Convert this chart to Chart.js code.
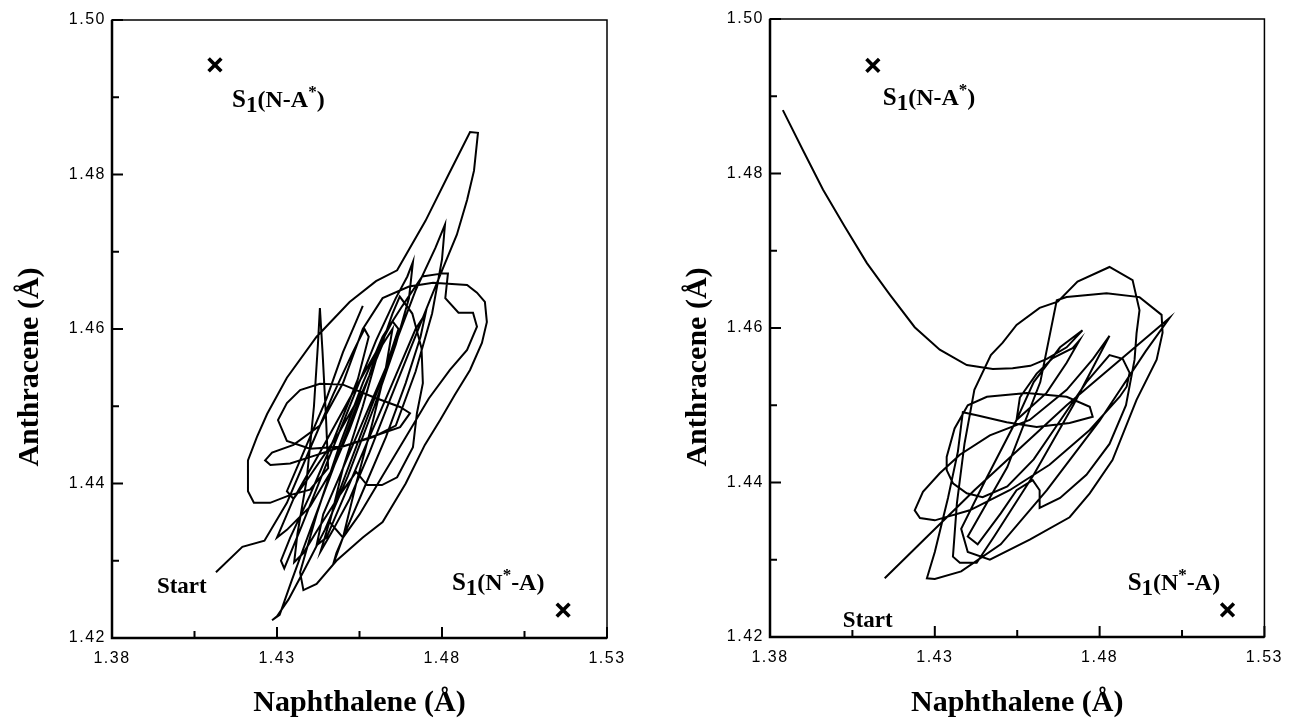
<!DOCTYPE html>
<html>

<head>
  <meta charset="utf-8">
  <title>Naphthalene / Anthracene trajectories</title>
  <script src="https://cdn.jsdelivr.net/npm/chart.js@4"></script>
  <style>
    body { margin: 0; background: #fff; }
    #wrap { position: relative; width: 1291px; height: 719px; }
    canvas { position: absolute; top: 0; }
  </style>
</head>

<body>
  <div id="wrap">
    <canvas id="leftChart" width="645" height="719" style="left:0"></canvas>
    <canvas id="rightChart" width="646" height="719" style="left:645px"></canvas>
  </div>
  <script>
    // axis labels
    var xTickLabels = ['1.38', '1.43', '1.48', '1.53'];
    var yTickLabels = ['1.42', '1.44', '1.46', '1.48', '1.50'];
    var xTitle = 'Naphthalene (\u00C5)';
    var yTitle = 'Anthracene (\u00C5)';

    // left panel trajectory
    var leftNaph = [
      1.4115, 1.4195, 1.4262, 1.4330, 1.4400, 1.4470, 1.4530, 1.4565, 1.4578, 1.4545,
      1.4470, 1.4400, 1.4340, 1.4312, 1.4322, 1.4375, 1.4445, 1.4525, 1.4600, 1.4660,
      1.4695, 1.4712, 1.4700, 1.4660, 1.4595, 1.4515, 1.4445, 1.4385, 1.4335, 1.4300,
      1.4285, 1.4308, 1.4345, 1.4405, 1.4475, 1.4545, 1.4605, 1.4650, 1.4672, 1.4710,
      1.4738, 1.4742, 1.4724, 1.4712, 1.4664, 1.4618, 1.4573, 1.4540, 1.4490, 1.4430,
      1.4380, 1.4352, 1.4362, 1.4390, 1.4412, 1.4424, 1.4430, 1.4438, 1.4448, 1.4455,
      1.4400, 1.4339, 1.4279, 1.4230, 1.4212, 1.4212, 1.4239, 1.4270, 1.4330, 1.4420,
      1.4520, 1.4600, 1.4664, 1.4750, 1.4820, 1.4885, 1.4909, 1.4897, 1.4876, 1.4845,
      1.4809, 1.4764, 1.4703, 1.4642, 1.4580, 1.4520, 1.4470, 1.4432, 1.4480, 1.4560,
      1.4640, 1.4720, 1.4780, 1.4809, 1.4800, 1.4770, 1.4720, 1.4660, 1.4591, 1.4500,
      1.4400, 1.4330, 1.4303, 1.4330, 1.4370, 1.4430, 1.4500, 1.4591, 1.4673, 1.4703,
      1.4673, 1.4550, 1.4421, 1.4340, 1.4280, 1.4264, 1.4285, 1.4350, 1.4430, 1.4500,
      1.4560, 1.4620, 1.4700, 1.4773, 1.4876, 1.4906, 1.4930, 1.4936, 1.4921, 1.4885,
      1.4839, 1.4794, 1.4748, 1.4690, 1.4620, 1.4560, 1.4480, 1.4420, 1.4380, 1.4370,
      1.4420, 1.4490, 1.4560, 1.4620, 1.4680, 1.4740, 1.4803, 1.4818, 1.4810, 1.4850,
      1.4894, 1.4906, 1.4876, 1.4824, 1.4760, 1.4690, 1.4620, 1.4550, 1.4500, 1.4460,
      1.4500, 1.4560, 1.4600, 1.4610, 1.4580, 1.4520, 1.4470, 1.4400, 1.4330, 1.4300,
      1.4350, 1.4430, 1.4520, 1.4600, 1.4650, 1.4668, 1.4630, 1.4560, 1.4490, 1.4440,
      1.4420, 1.4450, 1.4510, 1.4590, 1.4660, 1.4720, 1.4750, 1.4735, 1.4690, 1.4630,
      1.4570, 1.4520, 1.4480, 1.4470, 1.4500, 1.4540, 1.4590, 1.4630, 1.4650, 1.4620,
      1.4560, 1.4480, 1.4400, 1.4350, 1.4330, 1.4380, 1.4450, 1.4500, 1.4540, 1.4560
    ];
    var leftAnth = [
      1.4285, 1.4318, 1.4326, 1.4375, 1.4445, 1.4515, 1.4570, 1.4600, 1.4590, 1.4535,
      1.4455, 1.4385, 1.4330, 1.4300, 1.4290, 1.4345, 1.4420, 1.4505, 1.4585, 1.4640,
      1.4668, 1.4687, 1.4640, 1.4580, 1.4500, 1.4410, 1.4340, 1.4290, 1.4250, 1.4228,
      1.4223, 1.4230, 1.4275, 1.4345, 1.4425, 1.4505, 1.4565, 1.4620, 1.4642, 1.4620,
      1.4575, 1.4530, 1.4491, 1.4447, 1.4408, 1.4398, 1.4398, 1.4415, 1.4385, 1.4345,
      1.4310, 1.4298, 1.4335, 1.4405, 1.4500, 1.4580, 1.4627, 1.4570, 1.4490, 1.4420,
      1.4392, 1.4385, 1.4375, 1.4375, 1.4390, 1.4430, 1.4460, 1.4490, 1.4537, 1.4590,
      1.4635, 1.4662, 1.4676, 1.4740, 1.4800, 1.4855, 1.4854, 1.4805, 1.4767, 1.4722,
      1.4685, 1.4638, 1.4573, 1.4508, 1.4440, 1.4380, 1.4340, 1.4312, 1.4380, 1.4470,
      1.4560, 1.4650, 1.4705, 1.4735, 1.4690, 1.4620, 1.4545, 1.4475, 1.4460, 1.4448,
      1.4445, 1.4455, 1.4482, 1.4504, 1.4521, 1.4529, 1.4528, 1.4512, 1.4499, 1.4491,
      1.4473, 1.4455, 1.4437, 1.4426, 1.4424, 1.4430, 1.4440, 1.4450, 1.4475, 1.4530,
      1.4600, 1.4640, 1.4655, 1.4660, 1.4657, 1.4647, 1.4635, 1.4609, 1.4582, 1.4547,
      1.4515, 1.4482, 1.4450, 1.4400, 1.4350, 1.4330, 1.4300, 1.4270, 1.4262, 1.4285,
      1.4360, 1.4450, 1.4530, 1.4590, 1.4630, 1.4668, 1.4672, 1.4672, 1.4640, 1.4621,
      1.4621, 1.4603, 1.4573, 1.4547, 1.4510, 1.4460, 1.4410, 1.4360, 1.4330, 1.4350,
      1.4420, 1.4500, 1.4560, 1.4580, 1.4540, 1.4470, 1.4420, 1.4370, 1.4340, 1.4330,
      1.4380, 1.4440, 1.4510, 1.4570, 1.4610, 1.4600, 1.4550, 1.4480, 1.4410, 1.4360,
      1.4320, 1.4330, 1.4390, 1.4470, 1.4540, 1.4600, 1.4620, 1.4590, 1.4530, 1.4460,
      1.4400, 1.4350, 1.4310, 1.4295, 1.4330, 1.4400, 1.4480, 1.4550, 1.4600, 1.4580,
      1.4520, 1.4460, 1.4410, 1.4380, 1.4390, 1.4440, 1.4510, 1.4570, 1.4610, 1.4630
    ];

    // right panel trajectory
    var rightNaph = [
      1.4148, 1.4420, 1.4700, 1.5012, 1.4940, 1.4800, 1.4640, 1.4500, 1.4380, 1.4300,
      1.4276, 1.4300, 1.4340, 1.4370, 1.4385, 1.4427, 1.4518, 1.4609, 1.4709, 1.4779,
      1.4770, 1.4700, 1.4579, 1.4458, 1.4400, 1.4360, 1.4336, 1.4336, 1.4355, 1.4397,
      1.4445, 1.4520, 1.4600, 1.4680, 1.4760, 1.4830, 1.4870, 1.4891, 1.4882, 1.4861,
      1.4770, 1.4648, 1.4527, 1.4406, 1.4300, 1.4255, 1.4239, 1.4264, 1.4315, 1.4376,
      1.4467, 1.4588, 1.4700, 1.4780, 1.4830, 1.4720, 1.4600, 1.4480, 1.4427, 1.4376,
      1.4355, 1.4367, 1.4390, 1.4420, 1.4470, 1.4506, 1.4548, 1.4618, 1.4673, 1.4733,
      1.4830, 1.4900, 1.4921, 1.4912, 1.4906, 1.4880, 1.4830, 1.4760, 1.4680, 1.4618,
      1.4618, 1.4597, 1.4548, 1.4500, 1.4430, 1.4400, 1.4520, 1.4620, 1.4670, 1.4700,
      1.4821, 1.4921, 1.4988, 1.4991, 1.4973, 1.4912, 1.4839, 1.4770, 1.4709, 1.4588,
      1.4467, 1.4400, 1.4380, 1.4450, 1.4548, 1.4639, 1.4700, 1.4739, 1.4718, 1.4658,
      1.4609, 1.4558, 1.4548, 1.4600, 1.4680, 1.4748, 1.4700, 1.4640, 1.4590, 1.4536,
      1.4476, 1.4397, 1.4315, 1.4239, 1.4164, 1.4094, 1.4027, 1.3961, 1.3900, 1.3839
    ];
    var rightAnth = [
      1.4276, 1.4390, 1.4500, 1.4613, 1.4570, 1.4480, 1.4390, 1.4320, 1.4285, 1.4275,
      1.4276, 1.4310, 1.4380, 1.4440, 1.4491, 1.4487, 1.4478, 1.4472, 1.4477, 1.4485,
      1.4498, 1.4511, 1.4516, 1.4511, 1.4500, 1.4470, 1.4433, 1.4416, 1.4399, 1.4386,
      1.4381, 1.4395, 1.4430, 1.4480, 1.4530, 1.4565, 1.4560, 1.4542, 1.4524, 1.4511,
      1.4468, 1.4423, 1.4390, 1.4364, 1.4351, 1.4354, 1.4364, 1.4388, 1.4412, 1.4436,
      1.4461, 1.4481, 1.4520, 1.4560, 1.4590, 1.4500, 1.4410, 1.4330, 1.4296, 1.4296,
      1.4304, 1.4373, 1.4450, 1.4520, 1.4565, 1.4581, 1.4604, 1.4626, 1.4634, 1.4660,
      1.4679, 1.4662, 1.4623, 1.4593, 1.4559, 1.4500, 1.4450, 1.4410, 1.4380, 1.4367,
      1.4390, 1.4403, 1.4390, 1.4360, 1.4320, 1.4330, 1.4420, 1.4530, 1.4636, 1.4640,
      1.4645, 1.4640, 1.4617, 1.4594, 1.4559, 1.4507, 1.4429, 1.4386, 1.4355, 1.4326,
      1.4300, 1.4310, 1.4340, 1.4400, 1.4481, 1.4516, 1.4555, 1.4584, 1.4574, 1.4561,
      1.4541, 1.4510, 1.4481, 1.4530, 1.4575, 1.4597, 1.4575, 1.4560, 1.4551, 1.4548,
      1.4547, 1.4552, 1.4572, 1.4601, 1.4643, 1.4684, 1.4731, 1.4779, 1.4830, 1.4882
    ];

    // "x" marks of the two minima: [S1(N-A*), S1(N*-A)]
    var leftMinNaph = [1.4112, 1.5167];
    var leftMinAnth = [1.4942, 1.4236];
    var rightMinNaph = [1.4112, 1.5188];
    var rightMinAnth = [1.4940, 1.4235];

    // text anchors (data coords, left end of text on its baseline)
    var noteNames = ['NA*', 'N*A', 'Start'];
    var leftNoteNaph = [1.4164, 1.4830, 1.3936];
    var leftNoteAnth = [1.4887, 1.4262, 1.4258];
    var rightNoteNaph = [1.4142, 1.4885, 1.4021];
    var rightNoteAnth = [1.4889, 1.4261, 1.4213];

    // rich text pieces: [text, font size, baseline shift]
    var noteRuns = {
      'NA*': [['S', 25, 0], ['1', 23, 5], ['(N-A', 24, 0], ['*', 17, -10], [')', 24, 0]],
      'N*A': [['S', 25, 0], ['1', 23, 5], ['(N', 24, 0], ['*', 17, -10], ['-A)', 24, 0]],
      'Start': [['Start', 23, 0]]
    };

    function pairs(xs, ys) {
      return xs.map(function (v, i) { return { x: v, y: ys[i] }; });
    }

    function makeDeco(cfg) {
      return {
        id: 'deco',
        beforeDraw: function (chart) {
          chart.ctx.letterSpacing = '1.5px'; // tick labels are widely spaced
        },
        afterDraw: function (chart) {
          var ctx = chart.ctx, a = chart.chartArea, xs = chart.scales.x, ys = chart.scales.y;
          ctx.save();
          ctx.letterSpacing = '0px';
          ctx.strokeStyle = '#000';
          ctx.fillStyle = '#000';

          // frame
          ctx.lineWidth = 1.5;
          ctx.strokeRect(a.left, a.top, a.right - a.left, a.bottom - a.top);
          ctx.lineWidth = 2.5;
          ctx.beginPath();
          ctx.moveTo(a.left, a.top);
          ctx.lineTo(a.left, a.bottom);
          ctx.lineTo(a.right, a.bottom);
          ctx.stroke();

          // inward tick marks, long on labelled values
          ctx.lineWidth = 2;
          ctx.beginPath();
          xs.ticks.forEach(function (t, i) {
            var p = xs.getPixelForValue(t.value);
            var len = i % 2 ? 7 : 11;
            ctx.moveTo(p, a.bottom);
            ctx.lineTo(p, a.bottom - len);
          });
          ys.ticks.forEach(function (t, i) {
            var p = ys.getPixelForValue(t.value);
            var len = i % 2 ? 7 : 11;
            ctx.moveTo(a.left, p);
            ctx.lineTo(a.left + len, p);
          });
          ctx.stroke();

          // axis titles
          ctx.font = 'bold 30px "Liberation Serif", "Times New Roman", serif';
          ctx.textAlign = 'center';
          ctx.textBaseline = 'middle';
          ctx.fillText(xTitle, (a.left + a.right) / 2, cfg.xTitleY);
          ctx.save();
          ctx.translate(cfg.yTitleX, cfg.yTitleY);
          ctx.rotate(-Math.PI / 2);
          ctx.fillText(yTitle, 0, 0);
          ctx.restore();

          // notes
          ctx.textAlign = 'left';
          ctx.textBaseline = 'alphabetic';
          noteNames.forEach(function (name, i) {
            var cx = xs.getPixelForValue(cfg.noteNaph[i]);
            var cy = ys.getPixelForValue(cfg.noteAnth[i]);
            noteRuns[name].forEach(function (r) {
              ctx.font = 'bold ' + r[1] + 'px "Liberation Serif", "Times New Roman", serif';
              ctx.fillText(r[0], cx, cy + r[2]);
              cx += ctx.measureText(r[0]).width;
            });
          });
          ctx.restore();
        }
      };
    }

    function makeChart(id, naph, anth, minN, minA, cfg) {
      var tickFont = { family: '"Liberation Sans", Arial, sans-serif', size: 16 };
      return new Chart(document.getElementById(id), {
        type: 'scatter',
        data: {
          datasets: [{
            data: pairs(naph, anth),
            showLine: true,
            borderColor: '#000',
            borderWidth: 2,
            pointRadius: 0,
            pointHoverRadius: 0,
            tension: 0
          }, {
            data: pairs(minN, minA),
            showLine: false,
            pointStyle: 'crossRot',
            pointRadius: 9,
            pointBorderColor: '#000',
            pointBorderWidth: 3.6
          }]
        },
        options: {
          responsive: false,
          animation: false,
          events: [],
          layout: { padding: { top: cfg.top, right: cfg.right, left: 0, bottom: 0 } },
          plugins: { legend: { display: false }, tooltip: { enabled: false } },
          scales: {
            x: {
              type: 'linear',
              min: 1.38,
              max: 1.53,
              grid: { display: false, drawTicks: false },
              border: { display: false },
              ticks: {
                stepSize: 0.025,
                padding: 11,
                color: '#000',
                font: tickFont,
                maxRotation: 0,
                autoSkip: false,
                callback: function (value) {
                  var s = value.toFixed(2);
                  return xTickLabels.indexOf(s) >= 0 && Math.abs(value - Number(s)) < 1e-6 ? s : '';
                }
              },
              afterFit: function (s) { s.height = cfg.xAxisH; }
            },
            y: {
              type: 'linear',
              min: 1.42,
              max: 1.50,
              grid: { display: false, drawTicks: false },
              border: { display: false },
              ticks: {
                stepSize: 0.01,
                padding: 6,
                color: '#000',
                font: tickFont,
                autoSkip: false,
                callback: function (value) {
                  var s = value.toFixed(2);
                  return yTickLabels.indexOf(s) >= 0 ? s : '';
                }
              },
              afterFit: function (s) { s.width = cfg.yAxisW; }
            }
          }
        },
        plugins: [makeDeco(cfg)]
      });
    }

    makeChart('leftChart', leftNaph, leftAnth, leftMinNaph, leftMinAnth, {
      top: 20, right: 38, yAxisW: 112, xAxisH: 81,
      xTitleY: 703, yTitleX: 30, yTitleY: 367,
      noteNaph: leftNoteNaph, noteAnth: leftNoteAnth
    });

    makeChart('rightChart', rightNaph, rightAnth, rightMinNaph, rightMinAnth, {
      top: 19, right: 26, yAxisW: 125, xAxisH: 82,
      xTitleY: 703, yTitleX: 53, yTitleY: 367,
      noteNaph: rightNoteNaph, noteAnth: rightNoteAnth
    });
  </script>
</body>

</html>
